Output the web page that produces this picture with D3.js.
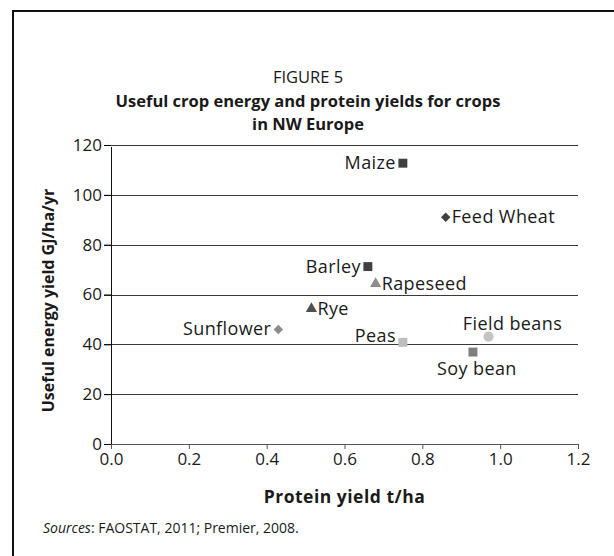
<!DOCTYPE html>
<html>

<head>
  <meta charset="UTF-8">
  <title>Figure 5</title>
  <style>
    body { margin: 0; background: #fff; }
    svg text { font-family: "Open Sans", "Noto Sans", sans-serif; fill: #1a1a1a; }
  </style>
</head>

<body>
  <script src="https://cdn.jsdelivr.net/npm/d3@7"></script>
  <script>
    const width = 614,
      height = 556

    // data
    const crops = ['Maize', 'Feed Wheat', 'Barley', 'Rapeseed', 'Rye', 'Sunflower', 'Peas', 'Field beans', 'Soy bean']
    const protein = [0.75, 0.86, 0.66, 0.68, 0.515, 0.43, 0.75, 0.97, 0.93]
    const energy = [112.7, 91, 71.2, 64.3, 54.3, 46, 40.8, 43.1, 36.9]
    const shapes = ['square', 'diamond', 'square', 'triangle', 'triangle', 'diamond', 'square', 'circle', 'square']
    const colors = ['#404040', '#404040', '#404040', '#8c8c8c', '#505050', '#8c8c8c', '#bdbdbd', '#c4c4c4', '#7f7f7f']
    // label placement: side of the point
    const labelPos = ['left', 'right', 'left', 'right', 'right', 'left', 'left', 'above', 'below']

    const xTicks = [0, 0.2, 0.4, 0.6, 0.8, 1.0, 1.2]
    const yTicks = [0, 20, 40, 60, 80, 100, 120]

    const margin = { left: 111, right: 36, top: 145, bottom: 112 }

    const svg = d3.select('body')
      .append('svg')
      .attr('width', width)
      .attr('height', height)

    // frame (open at right and bottom)
    svg.append('path')
      .attr('d', `M13,${height} V11 H${width}`)
      .attr('fill', 'none')
      .attr('stroke', '#111')
      .attr('stroke-width', 2)

    svg.append('text')
      .attr('x', 308).attr('y', 83)
      .attr('text-anchor', 'middle')
      .style('font-size', '16.5px')
      .text('FIGURE 5')

    const titleLines = ['Useful crop energy and protein yields for crops', 'in NW Europe']
    svg.selectAll('text.title')
      .data(titleLines).enter()
      .append('text')
      .classed('title', true)
      .attr('x', 308)
      .attr('y', (d, i) => 107 + i * 23)
      .attr('text-anchor', 'middle')
      .style('font-size', '16.5px')
      .style('font-weight', 'bold')
      .text(d => d)

    const xScale = d3.scaleLinear()
      .domain([0, 1.2])
      .range([margin.left, width - margin.right])

    const yScale = d3.scaleLinear()
      .domain([0, 120])
      .range([height - margin.bottom, margin.top])

    // horizontal gridlines
    svg.append('g')
      .selectAll('line')
      .data(yTicks.slice(1)).enter()
      .append('line')
      .attr('x1', xScale(0) - 7)
      .attr('x2', xScale(1.2))
      .attr('y1', d => Math.round(yScale(d)) + 0.5)
      .attr('y2', d => Math.round(yScale(d)) + 0.5)
      .attr('stroke', '#3a3a3a')

    const yAxis = d3.axisLeft(yScale)
      .tickValues(yTicks)
      .tickSize(7)
      .tickPadding(2)
    svg.append('g')
      .attr('transform', `translate(${xScale(0)},0)`)
      .call(yAxis)
      .call(g => g.select('.domain').attr('d', `M0.5,${yScale(120) + 2}V${yScale(0)}`).attr('stroke', '#111'))
      .call(g => g.selectAll('text').style('font-size', '17px').attr('fill', '#1a1a1a'))

    const xAxis = d3.axisBottom(xScale)
      .tickValues(xTicks)
      .tickFormat(d3.format('.1f'))
      .tickSize(5)
      .tickPadding(4)
    svg.append('g')
      .attr('transform', `translate(0,${yScale(0)})`)
      .call(xAxis)
      .call(g => g.select('.domain').attr('stroke', '#555'))
      .call(g => g.selectAll('.tick line').attr('stroke', '#555'))
      .call(g => g.selectAll('text').style('font-size', '17px').attr('fill', '#1a1a1a'))

    // axis titles
    svg.append('text')
      .attr('x', (xScale(0) + xScale(1.2)) / 2)
      .attr('y', 503)
      .attr('text-anchor', 'middle')
      .style('font-size', '17.5px')
      .style('font-weight', 'bold')
      .style('letter-spacing', '0.5px')
      .text('Protein yield t/ha')

    svg.append('text')
      .attr('transform', `translate(54,${(yScale(0) + yScale(120)) / 2 + 6}) rotate(-90)`)
      .attr('text-anchor', 'middle')
      .style('font-size', '16px')
      .style('font-weight', 'bold')
      .text('Useful energy yield GJ/ha/yr')

    // points
    const symbolTypes = {
      square: [d3.symbolSquare, 80, 0],
      diamond: [d3.symbolSquare, 45, 45],
      triangle: [d3.symbolTriangle, 55, 0],
      circle: [d3.symbolCircle, 80, 0]
    }

    const data = crops.map((c, i) => ({
      name: c,
      x: protein[i],
      y: energy[i],
      shape: shapes[i],
      color: colors[i],
      pos: labelPos[i]
    }))

    svg.append('g')
      .selectAll('path')
      .data(data).enter()
      .append('path')
      .attr('transform', d => `translate(${xScale(d.x)},${yScale(d.y)}) rotate(${symbolTypes[d.shape][2]})`)
      .attr('d', d => d3.symbol(symbolTypes[d.shape][0], symbolTypes[d.shape][1])())
      .attr('fill', d => d.color)

    svg.append('g')
      .selectAll('text')
      .data(data).enter()
      .append('text')
      .attr('x', d => {
        const x = xScale(d.x)
        if (d.pos === 'left') return x - 7
        if (d.pos === 'right') return x + 6
        if (d.pos === 'above') return x + 24
        return x + 4
      })
      .attr('y', d => {
        const y = yScale(d.y)
        if (d.pos === 'above') return y - 7
        if (d.pos === 'below') return y + 23
        if (d.name === 'Peas') return y
        return y + 6
      })
      .attr('text-anchor', d => d.pos === 'left' ? 'end' : d.pos === 'right' ? 'start' : 'middle')
      .style('font-size', '18px')
      .style('letter-spacing', '0.4px')
      .text(d => d.name)

    // source note
    const note = svg.append('text')
      .attr('x', 43)
      .attr('y', 533)
      .style('font-size', '14px')
    note.append('tspan').style('font-style', 'italic').text('Sources')
    note.append('tspan').text(': FAOSTAT, 2011; Premier, 2008.')
  </script>
</body>

</html>
